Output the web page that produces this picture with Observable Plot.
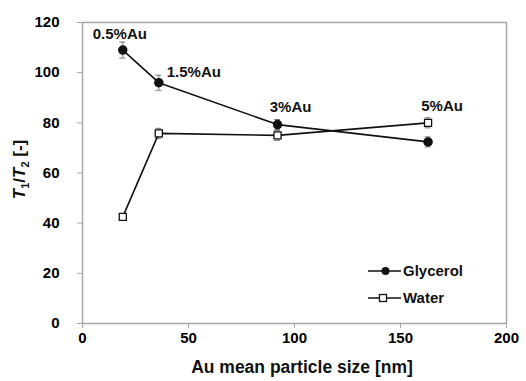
<!DOCTYPE html>
<html>
<head>
<meta charset="utf-8">
<script src="https://cdn.jsdelivr.net/npm/d3@7"></script>
<script src="https://cdn.jsdelivr.net/npm/@observablehq/plot@0.6"></script>
<style>
  html, body { margin: 0; padding: 0; background: #fff; }
  svg { font-family: "Liberation Sans", Arial, sans-serif; }
</style>
</head>
<body>
<div id="chart"></div>
<script>
// Data
const sizes = [19, 36, 92, 163];              // Au mean particle size [nm]
const glycerol = [109, 96, 79.3, 72.4];        // T1/T2, glycerol
const glycerolErr = [3.2, 3, 2, 2];
const water = [42.5, 75.8, 75, 80];            // T1/T2, water
const waterErr = [1, 2, 2, 2];
const loadings = ["0.5%Au", "1.5%Au", "3%Au", "5%Au"];
const xTicks = [0, 50, 100, 150, 200];
const yTicks = [0, 20, 40, 60, 80, 100, 120];

// label offsets (pixels) relative to glycerol points — styling only
const labelOffsets = [[-3, -16], [35, -11], [13, -17], [14, -36]];

const gData = sizes.map((x, i) => ({x, y: glycerol[i], e: glycerolErr[i]}));
const wData = sizes.map((x, i) => ({x, y: water[i], e: waterErr[i]}));
const labels = sizes.map((x, i) => ({x, y: glycerol[i], t: loadings[i], dx: labelOffsets[i][0], dy: labelOffsets[i][1]}));

const capHalf = 1.4;
const errMarks = (data) => [
  Plot.ruleX(data, {x: "x", y1: d => d.y - d.e, y2: d => d.y + d.e, stroke: "#777", strokeWidth: 1}),
  Plot.ruleY(data, {y: d => d.y + d.e, x1: d => d.x - capHalf, x2: d => d.x + capHalf, stroke: "#777", strokeWidth: 1}),
  Plot.ruleY(data, {y: d => d.y - d.e, x1: d => d.x - capHalf, x2: d => d.x + capHalf, stroke: "#777", strokeWidth: 1})
];

const chart = Plot.plot({
  width: 526,
  height: 381,
  marginLeft: 82,
  marginRight: 20,
  marginTop: 22,
  marginBottom: 58,
  style: {fontFamily: "Liberation Sans, Arial, sans-serif", background: "#fff"},
  x: {domain: [0, 200]},
  y: {domain: [0, 120]},
  marks: [
    Plot.frame({stroke: "#a6a6a6", strokeWidth: 1.5}),
    Plot.axisX({ticks: xTicks, tickSize: 5, stroke: "#a6a6a6", fontSize: 15, fontWeight: "bold", fill: "#000", label: null}),
    Plot.axisY({ticks: yTicks, tickSize: 5, stroke: "#a6a6a6", tickFormat: () => "", label: null}),
    Plot.axisY({ticks: yTicks, tickSize: 0, dx: -14, fontSize: 15, fontWeight: "bold", fill: "#000", label: null}),
    ...errMarks(gData),
    ...errMarks(wData),
    Plot.line(wData, {x: "x", y: "y", stroke: "#111", strokeWidth: 1.6}),
    Plot.line(gData, {x: "x", y: "y", stroke: "#111", strokeWidth: 1.6}),
    Plot.dot(wData, {x: "x", y: "y", symbol: "square", r: 4, fill: "#fff", stroke: "#111", strokeWidth: 1.3}),
    Plot.dot(gData, {x: "x", y: "y", symbol: "circle", r: 4, fill: "#111", stroke: "#111"}),
    ...labels.map(l => Plot.text([l], {x: "x", y: "y", text: "t", dx: l.dx, dy: l.dy, fontSize: 15, fontWeight: "bold", fill: "#111"}))
  ]
});

const svg = d3.select(chart);
const xs = chart.scale("x"), ys = chart.scale("y");

// Axis titles
svg.append("text")
  .attr("x", (xs.apply(0) + xs.apply(200)) / 2 + 8)
  .attr("y", 373)
  .attr("text-anchor", "middle")
  .attr("font-size", 17.5).attr("font-weight", "bold").attr("fill", "#111")
  .text("Au mean particle size [nm]");

const yl = svg.append("text")
  .attr("transform", `translate(25,${(ys.apply(0) + ys.apply(120)) / 2 - 3}) rotate(-90)`)
  .attr("text-anchor", "middle")
  .attr("font-size", 17).attr("font-weight", "bold").attr("fill", "#111");
yl.append("tspan").attr("font-style", "italic").text("T");
yl.append("tspan").attr("font-size", 11).attr("dy", 4).text("1");
yl.append("tspan").attr("dy", -4).text("/");
yl.append("tspan").attr("font-style", "italic").text("T");
yl.append("tspan").attr("font-size", 11).attr("dy", 4).text("2");
yl.append("tspan").attr("dy", -4).text(" [-]");

// Legend
const legendItems = [
  {name: "Glycerol", symbol: "circle"},
  {name: "Water", symbol: "square"}
];
const lx0 = 368, lx1 = 401, ly0 = 271, lstep = 27;
legendItems.forEach((it, i) => {
  const y = ly0 + i * lstep;
  const g = svg.append("g");
  g.append("line").attr("x1", lx0).attr("x2", lx1).attr("y1", y).attr("y2", y)
    .attr("stroke", "#111").attr("stroke-width", 1.6);
  if (it.symbol === "circle") {
    g.append("circle").attr("cx", (lx0 + lx1) / 2 + 1).attr("cy", y).attr("r", 4).attr("fill", "#111");
  } else {
    g.append("rect").attr("x", (lx0 + lx1) / 2 - 5).attr("y", y - 3.5).attr("width", 7).attr("height", 7)
      .attr("fill", "#fff").attr("stroke", "#111").attr("stroke-width", 1.3);
  }
  g.append("text").attr("x", lx1 + 2).attr("y", y).attr("dy", "0.35em")
    .attr("text-anchor", "start")
    .attr("font-size", 15).attr("font-weight", "bold").attr("fill", "#111").text(it.name);
});

document.getElementById("chart").appendChild(chart);
</script>
</body>
</html>
